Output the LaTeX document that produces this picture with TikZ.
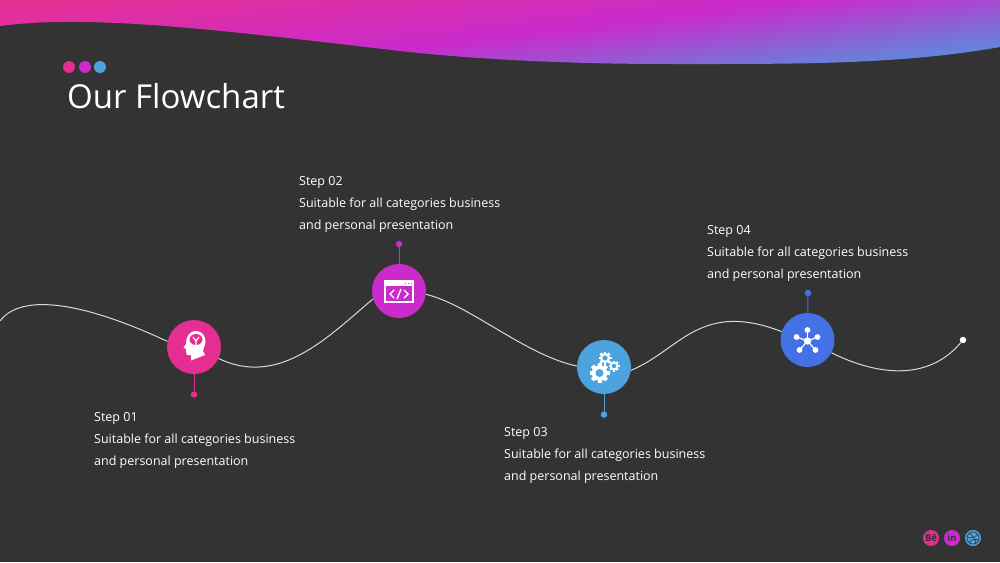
\documentclass[tikz,border=0pt]{standalone}
\usepackage{fontspec}
\setmainfont{Open Sans}
\usepackage{tikz}
\usetikzlibrary{arrows}
\definecolor{bgdark}{HTML}{333333}
\definecolor{pinkc}{HTML}{E52E92}
\definecolor{magc}{HTML}{CB2BCB}
\definecolor{skyc}{HTML}{4DA3DD}
\definecolor{bluec}{HTML}{4472E6}
\definecolor{wavea}{HTML}{E8308F}
\definecolor{waveb}{HTML}{C92BCB}
\definecolor{wavec}{HTML}{6484DA}
\pgfdeclareverticalshading{wavefill}{100bp}{color(0bp)=(wavea); color(46.2bp)=(wavea); color(50.7bp)=(waveb); color(53.8bp)=(wavec); color(100bp)=(wavec)}
\newcommand{\gearicon}[3]{
\fill[white] (#1,#2) circle (#3*0.78);
\foreach \a in {0,45,...,315}
  \fill[white,rotate around={\a:(#1,#2)}] (#1-#3*0.2,#2-#3) rectangle (#1+#3*0.2,#2);
}
\begin{document}
\begin{tikzpicture}[x=1pt,y=-1pt,
  stepnode/.style={circle,minimum size=54pt,inner sep=0pt},
  tipdot/.style={circle,minimum size=6.5pt,inner sep=0pt},
  smallnode/.style={circle,minimum size=16pt,inner sep=0pt,text=bgdark,font=\fontsize{9.5}{9.5}\selectfont\bfseries},
  headdot/.style={circle,minimum size=12pt,inner sep=0pt},
  infotext/.style={anchor=west,align=left,inner sep=0pt,text=white,font=\fontsize{12.5}{22}\selectfont},
  wave/.style={draw=white!85!black,line width=1pt},
  stem/.style={line width=1pt}]
\useasboundingbox (0,0) rectangle (1000,562);
\fill[bgdark] (0,0) rectangle (1000,562);

\begin{scope}
\clip (0,0) -- (0,26) .. controls (90,14) and (220,30) .. (400,51) .. controls (500,62) and (600,64) .. (670,64) .. controls (790,64) and (900,65) .. (1000,47) -- (1000,0) -- cycle;
\shade[shading=wavefill,shading angle=187.1] (-60,-538) rectangle (1060,582);
\end{scope}

\node (d1)[headdot,fill=pinkc] at (69,67) {};
\node (d2)[headdot,fill=magc] at (85,67) {};
\node (d3)[headdot,fill=skyc] at (100,67) {};
\node (title)[anchor=west,inner sep=0pt,text=white,font=\fontsize{33}{33}\selectfont] at (67,96) {Our Flowchart};

\node (step1)[stepnode,fill=pinkc] at (194,347) {};
\node (step2)[stepnode,fill=magc] at (399,291) {};
\node (step3)[stepnode,fill=skyc] at (604,367) {};
\node (step4)[stepnode,fill=bluec] at (807.5,340) {};
\node (tip1)[tipdot,fill=pinkc] at (194,394.5) {};
\node (tip2)[tipdot,fill=magc] at (399,244) {};
\node (tip3)[tipdot,fill=skyc] at (604,414.5) {};
\node (tip4)[tipdot,fill=bluec] at (808,293) {};
\node (last)[tipdot,fill=white] at (963,340) {};
\coordinate (first) at (0,321);

\draw[wave] (first) .. controls (22,292) and (85,303) .. (step1.168);
\draw[wave] (step1.-25) .. controls (280,388) and (330,335) .. (step2.197);
\draw[wave] (step2.-7) .. controls (470,305) and (525,355) .. (step3.178);
\draw[wave] (step3.-7) .. controls (680,350) and (700,300) .. (step4.162);
\draw[wave] (step4.-28) .. controls (870,372) and (925,385) .. (last);

\draw[stem,pinkc] (step1) -- (tip1);
\draw[stem,magc] (step2) -- (tip2);
\draw[stem,skyc] (step3) -- (tip3);
\draw[stem,bluec] (step4) -- (tip4);

\node (text1)[infotext] at (94,440.5) {Step 01\\Suitable for all categories business\\and personal presentation};
\node (text2)[infotext] at (299,204) {Step 02\\Suitable for all categories business\\and personal presentation};
\node (text3)[infotext] at (504,455.5) {Step 03\\Suitable for all categories business\\and personal presentation};
\node (text4)[infotext] at (707,253) {Step 04\\Suitable for all categories business\\and personal presentation};

\begin{scope}[shift={(step1.center)}]
\fill[white] (2,-16) .. controls (8,-16) and (11.5,-11) .. (11.5,-6) .. controls (11.5,-1) and (9,1) .. (9,4) -- (11,8) -- (-3,13.5) -- (-3,8) -- (-7,8) .. controls (-8,6) and (-8,4) .. (-8,2) -- (-10.5,0.5) -- (-8,-3) .. controls (-8,-10) and (-5,-16) .. (2,-16) -- cycle;
\fill[pinkc] (2,-7.5) ellipse (6.5 and 5.5);
\draw[white,line width=1.2pt] (2,-1.5) -- (2,-6) -- (-1,-10);
\draw[white,line width=1.2pt] (2,-6) -- (5,-10);
\end{scope}

\begin{scope}[shift={(step2.center)}]
\fill[white] (-15,-11) rectangle (15,12);
\fill[magc] (-13,-5) rectangle (13,10);
\foreach \x in {7,10,13}
  \fill[magc] (\x-0.8,-8.5) rectangle (\x+0.4,-7);
\draw[white,line width=1.4pt] (-5,-1) -- (-9,3) -- (-5,7);
\draw[white,line width=1.4pt] (5,-1) -- (9,3) -- (5,7);
\draw[white,line width=1.4pt] (2,-2) -- (-2,8);
\end{scope}

\begin{scope}[shift={(step3.center)}]
\gearicon{-4.5}{6}{10}
\fill[skyc] (-4.5,6) circle (4);
\gearicon{1}{-9}{6.5}
\fill[skyc] (1,-9) circle (2.6);
\gearicon{10}{-1}{5.5}
\fill[skyc] (10,-1) circle (2.2);
\end{scope}

\begin{scope}[shift={(step4.center)}]
\foreach \x/\y in {0/-10,10/-3,8/10,-8/10,-11/-3}{
  \draw[white,line width=1.2pt] (0,1) -- (\x,\y);
  \fill[white] (\x,\y) circle (2.9);
}
\fill[white] (0,1) circle (3.7);
\end{scope}

\node (be)[smallnode,fill=pinkc] at (931,538) {Bē};
\node (in)[smallnode,fill=magc] at (952,538) {in};
\node (dr)[smallnode,fill=skyc] at (973,538) {};
\draw[bgdark,line width=0.7pt] (973,538) circle (6);
\draw[bgdark,line width=0.6pt] (969,533) .. controls (973,535) and (976,541) .. (976,544);
\draw[bgdark,line width=0.6pt] (967,537) .. controls (971,539) and (976,537) .. (978,534);
\draw[bgdark,line width=0.6pt] (969,543) .. controls (971,539) and (975,539) .. (979,540);
\end{tikzpicture}
\end{document}
